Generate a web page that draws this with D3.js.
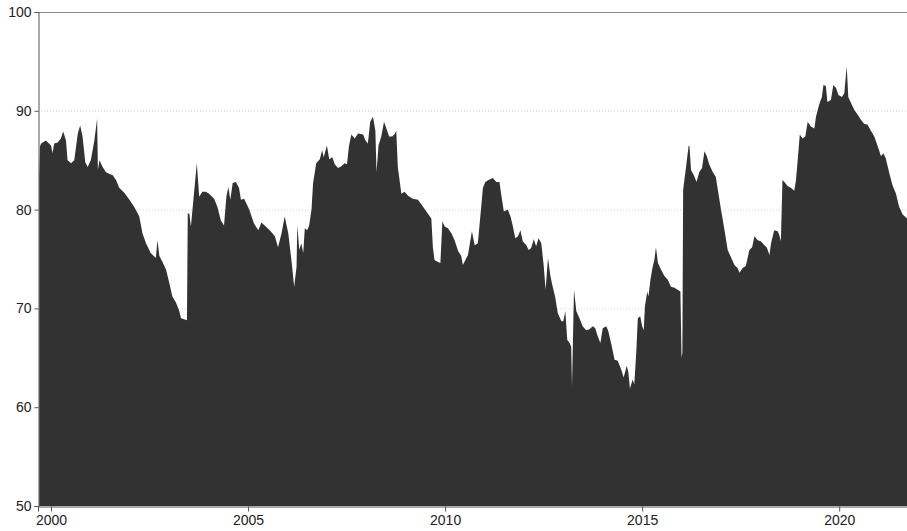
<!DOCTYPE html>
<html>
<head>
<meta charset="utf-8">
<script src="https://cdn.jsdelivr.net/npm/d3@7/dist/d3.min.js"></script>
<style>
  html, body { margin: 0; padding: 0; background: #fff; }
  svg { display: block; }
  text { font-family: "Liberation Sans", Arial, Helvetica, sans-serif; }
</style>
</head>
<body>
<svg id="chart" width="907" height="531"></svg>
<script>
// Decimal-year time stamps and matching values
const years = [
  1999.70, 1999.72, 1999.75, 1999.87, 2000.00, 2000.04, 2000.08, 2000.17, 2000.25, 2000.31,
  2000.38, 2000.42, 2000.51, 2000.59, 2000.68, 2000.74, 2000.80, 2000.87, 2000.93, 2001.01,
  2001.10, 2001.17, 2001.19, 2001.23, 2001.31, 2001.39, 2001.48, 2001.56, 2001.65, 2001.73,
  2001.86, 2001.99, 2002.11, 2002.24, 2002.32, 2002.41, 2002.53, 2002.66, 2002.70, 2002.75,
  2002.83, 2002.92, 2003.00, 2003.08, 2003.17, 2003.25, 2003.30, 2003.45, 2003.47, 2003.51,
  2003.55, 2003.59, 2003.70, 2003.76, 2003.84, 2003.93, 2004.01, 2004.14, 2004.22, 2004.31,
  2004.39, 2004.45, 2004.50, 2004.55, 2004.61, 2004.69, 2004.77, 2004.82, 2004.90, 2005.03,
  2005.15, 2005.26, 2005.34, 2005.42, 2005.55, 2005.68, 2005.76, 2005.85, 2005.93, 2006.02,
  2006.10, 2006.17, 2006.23, 2006.25, 2006.30, 2006.35, 2006.40, 2006.44, 2006.50, 2006.55,
  2006.61, 2006.65, 2006.73, 2006.82, 2006.88, 2006.92, 2007.00, 2007.06, 2007.14, 2007.20,
  2007.28, 2007.37, 2007.45, 2007.51, 2007.56, 2007.62, 2007.71, 2007.79, 2007.92, 2007.98,
  2008.04, 2008.10, 2008.17, 2008.23, 2008.26, 2008.31, 2008.38, 2008.45, 2008.51, 2008.58,
  2008.66, 2008.73, 2008.76, 2008.80, 2008.89, 2008.97, 2009.06, 2009.18, 2009.31, 2009.44,
  2009.56, 2009.65, 2009.69, 2009.73, 2009.82, 2009.88, 2009.93, 2009.99, 2010.07, 2010.16,
  2010.24, 2010.33, 2010.41, 2010.45, 2010.54, 2010.58, 2010.68, 2010.75, 2010.83, 2010.87,
  2010.96, 2011.02, 2011.10, 2011.21, 2011.30, 2011.38, 2011.42, 2011.49, 2011.59, 2011.66,
  2011.72, 2011.78, 2011.85, 2011.91, 2011.97, 2012.06, 2012.12, 2012.18, 2012.25, 2012.31,
  2012.37, 2012.44, 2012.50, 2012.55, 2012.61, 2012.67, 2012.73, 2012.79, 2012.86, 2012.95,
  2013.00, 2013.05, 2013.10, 2013.16, 2013.20, 2013.22, 2013.27, 2013.33, 2013.41, 2013.49,
  2013.58, 2013.66, 2013.75, 2013.81, 2013.87, 2013.94, 2014.00, 2014.09, 2014.14, 2014.21,
  2014.30, 2014.38, 2014.47, 2014.53, 2014.61, 2014.65, 2014.69, 2014.76, 2014.80, 2014.85,
  2014.89, 2014.95, 2015.00, 2015.04, 2015.07, 2015.13, 2015.16, 2015.21, 2015.27, 2015.31,
  2015.35, 2015.40, 2015.48, 2015.56, 2015.65, 2015.73, 2015.82, 2015.90, 2015.97, 2016.00,
  2016.02, 2016.04, 2016.11, 2016.18, 2016.20, 2016.24, 2016.32, 2016.38, 2016.45, 2016.52,
  2016.58, 2016.64, 2016.70, 2016.79, 2016.87, 2016.92, 2017.00, 2017.09, 2017.17, 2017.25,
  2017.34, 2017.42, 2017.47, 2017.55, 2017.63, 2017.72, 2017.79, 2017.85, 2017.93, 2018.01,
  2018.10, 2018.16, 2018.23, 2018.27, 2018.35, 2018.44, 2018.48, 2018.52, 2018.56, 2018.63,
  2018.69, 2018.77, 2018.86, 2018.90, 2018.94, 2019.00, 2019.07, 2019.14, 2019.20, 2019.28,
  2019.37, 2019.41, 2019.49, 2019.56, 2019.60, 2019.66, 2019.70, 2019.79, 2019.85, 2019.92,
  2019.98, 2020.07, 2020.13, 2020.19, 2020.23, 2020.30, 2020.38, 2020.47, 2020.55, 2020.63,
  2020.72, 2020.80, 2020.89, 2020.97, 2021.06, 2021.12, 2021.18, 2021.27, 2021.35, 2021.44,
  2021.52, 2021.61, 2021.72
];
const values = [
  83.3, 86.4, 86.7, 87.0, 86.5, 85.7, 86.7, 86.8, 87.2, 87.9,
  87.0, 85.0, 84.7, 85.0, 87.7, 88.5, 87.4, 84.8, 84.3, 85.0,
  87.0, 89.2, 84.0, 85.0, 84.3, 83.8, 83.6, 83.5, 83.0, 82.2,
  81.7, 81.0, 80.3, 79.3, 77.6, 76.6, 75.6, 75.1, 76.9, 75.3,
  74.7, 73.9, 72.6, 71.2, 70.6, 69.8, 69.0, 68.8, 79.6, 79.6,
  78.3, 80.0, 84.7, 81.3, 81.8, 81.8, 81.6, 81.1, 80.3, 78.9,
  78.4, 81.3, 82.3, 81.0, 82.7, 82.8, 82.2, 81.0, 81.1, 80.0,
  78.6, 77.9, 78.7, 78.4, 77.9, 77.3, 76.2, 77.6, 79.3, 77.6,
  74.9, 72.2, 74.2, 78.4, 75.9, 76.6, 75.6, 78.1, 77.9, 78.4,
  80.0, 82.7, 84.7, 85.1, 86.0, 85.3, 86.5, 85.1, 85.3, 84.6,
  84.2, 84.4, 84.7, 84.6, 86.4, 87.6, 87.2, 87.7, 87.6, 87.0,
  86.7, 88.9, 89.4, 88.0, 83.8, 86.5, 87.4, 88.9, 88.2, 87.4,
  87.4, 87.7, 88.0, 84.3, 81.6, 81.8, 81.4, 81.1, 81.0, 80.3,
  79.6, 79.1, 76.2, 74.9, 74.7, 74.6, 78.8, 78.3, 78.1, 77.6,
  76.9, 75.8, 75.3, 74.4, 75.1, 75.4, 77.8, 76.4, 76.6, 78.3,
  82.2, 82.8, 83.0, 83.2, 82.8, 82.8, 81.6, 79.8, 80.0, 79.3,
  78.3, 77.1, 77.3, 77.9, 76.8, 76.4, 75.9, 76.1, 77.0, 76.3,
  77.1, 76.6, 74.4, 71.9, 75.1, 73.3, 72.2, 71.2, 69.5, 68.7,
  68.7, 69.7, 66.8, 66.5, 66.1, 62.1, 71.9, 69.7, 69.0, 68.2,
  67.8, 67.9, 68.2, 68.0, 67.2, 66.5, 68.0, 68.2, 67.7, 66.5,
  64.8, 64.7, 63.8, 63.0, 64.2, 63.5, 61.9, 62.8, 62.3, 65.5,
  69.0, 69.2, 68.2, 67.8, 70.2, 71.7, 71.2, 72.9, 74.3, 74.9,
  76.2, 74.6, 73.9, 73.3, 72.9, 72.2, 72.1, 71.9, 71.7, 65.0,
  65.5, 82.0, 84.2, 86.5, 86.4, 84.0, 83.4, 82.8, 83.8, 84.2,
  85.9, 85.4, 84.6, 83.8, 83.3, 82.0, 80.0, 77.9, 75.9, 75.2,
  74.4, 74.1, 73.6, 74.1, 74.3, 75.9, 76.2, 77.3, 76.9, 76.8,
  76.4, 76.2, 75.4, 76.6, 77.9, 77.8, 77.4, 76.8, 83.0, 82.7,
  82.4, 82.2, 81.9, 82.9, 84.7, 87.6, 87.2, 87.4, 88.9, 88.4,
  88.2, 89.4, 90.6, 91.4, 92.6, 92.5, 90.9, 91.1, 92.6, 92.3,
  91.6, 91.4, 91.8, 94.5, 91.4, 90.8, 90.1, 89.6, 89.1, 88.7,
  88.6, 88.0, 87.4, 86.5, 85.4, 85.7, 85.2, 83.7, 82.5, 81.6,
  80.3, 79.5, 79.1
];
const xTickValues = [2000, 2005, 2010, 2015, 2020];
const yTickValues = [50, 60, 70, 80, 90, 100];
const gridValues = [60, 70, 80, 90];

const data = years.map((y, i) => ({ x: y, v: values[i] }));

const W = 907, H = 531;
const m = { top: 12, right: 0, bottom: 25, left: 38 };
const svg = d3.select("#chart");

const x = d3.scaleLinear().domain([1999.67, 2021.72]).range([m.left, W - m.right]);
const y = d3.scaleLinear().domain([50, 100]).range([H - m.bottom, m.top]);

// grid
svg.append("g").selectAll("line").data(gridValues).join("line")
  .attr("x1", m.left).attr("x2", W - m.right)
  .attr("y1", d => y(d) + 0.5).attr("y2", d => y(d) + 0.5)
  .attr("stroke", "#d2d2d2").attr("stroke-width", 1)
  .attr("stroke-dasharray", "1,2");

// area
svg.append("defs").append("clipPath").attr("id", "clip")
  .append("rect").attr("x", m.left).attr("y", m.top)
  .attr("width", W - m.left - m.right).attr("height", H - m.top - m.bottom);

const area = d3.area()
  .x(d => x(d.x))
  .y0(y(50))
  .y1(d => y(d.v));

svg.append("path").datum(data)
  .attr("clip-path", "url(#clip)")
  .attr("d", area)
  .attr("fill", "#323232");

// top frame line
svg.append("line")
  .attr("x1", m.left).attr("x2", W - m.right)
  .attr("y1", m.top + 0.5).attr("y2", m.top + 0.5)
  .attr("stroke", "#8a8a8a").attr("stroke-width", 1);

// y axis
const yAxis = svg.append("g")
  .attr("transform", `translate(${m.left + 0.5},0)`)
  .call(d3.axisLeft(y).tickValues(yTickValues).tickSize(4).tickPadding(3).tickFormat(d3.format("d")));
yAxis.select(".domain").attr("stroke", "#555");
yAxis.selectAll(".tick line").attr("stroke", "#555");
yAxis.selectAll("text").attr("font-size", 14).attr("fill", "#222");

// x axis
const xAxis = svg.append("g")
  .attr("transform", `translate(0,${H - m.bottom + 0.5})`)
  .call(d3.axisBottom(x).tickValues(xTickValues).tickSize(5).tickPadding(4).tickFormat(d3.format("d")));
xAxis.select(".domain").attr("stroke", "#555");
xAxis.selectAll(".tick line").attr("stroke", "#555");
xAxis.selectAll("text").attr("font-size", 14).attr("fill", "#222");
</script>
</body>
</html>
